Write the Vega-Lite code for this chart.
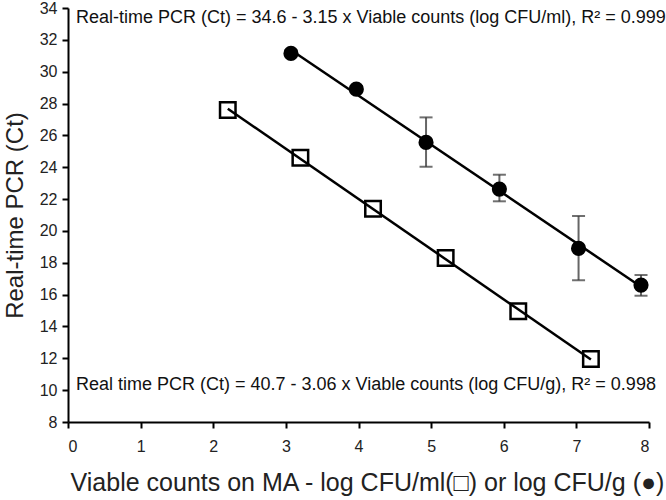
{
  "$schema": "https://vega.github.io/schema/vega-lite/v6.json",
  "width": 581,
  "height": 414,
  "autosize": "none",
  "padding": {"left": 68, "top": 8, "right": 17, "bottom": 78},
  "background": "white",
  "config": {
    "view": {"stroke": null},
    "font": "Liberation Sans",
    "axis": {
      "grid": false,
      "domainColor": "black",
      "domainWidth": 2,
      "tickColor": "black",
      "tickWidth": 2,
      "tickSize": 6,
      "labelFont": "Liberation Sans",
      "labelFontSize": 16,
      "labelColor": "#222",
      "titleFont": "Liberation Sans",
      "titleFontWeight": "normal",
      "titleColor": "#222"
    }
  },
  "datasets": {
    "g": [
      {"x": 3.07, "y": 31.15, "lo": 30.95, "hi": 31.35},
      {"x": 3.97, "y": 28.9, "lo": 28.7, "hi": 29.1},
      {"x": 4.93, "y": 25.56, "lo": 24.03, "hi": 27.13},
      {"x": 5.94, "y": 22.63, "lo": 21.86, "hi": 23.53},
      {"x": 7.03, "y": 18.9, "lo": 16.91, "hi": 20.93},
      {"x": 7.89, "y": 16.6, "lo": 15.93, "hi": 17.23}
    ],
    "ml": [
      {"x": 2.2, "y": 27.6},
      {"x": 3.2, "y": 24.6},
      {"x": 4.2, "y": 21.4},
      {"x": 5.2, "y": 18.3},
      {"x": 6.2, "y": 14.95},
      {"x": 7.2, "y": 11.95}
    ],
    "notes": [
      {"x": 0.11, "y": 33.4, "label": "Real-time PCR (Ct) = 34.6 - 3.15 x Viable counts (log CFU/ml), R² = 0.999"},
      {"x": 0.11, "y": 10.3, "label": "Real time PCR (Ct) = 40.7 - 3.06 x Viable counts (log CFU/g), R² = 0.998"}
    ]
  },
  "encoding": {
    "x": {
      "field": "x", "type": "quantitative",
      "scale": {"domain": [0, 8], "nice": false},
      "axis": {"values": [0,1,2,3,4,5,6,7,8], "labelPadding": 10, "titlePadding": 16,
               "titleFontSize": 25, "titleX": 299,
               "title": "Viable counts on MA - log CFU/ml(□) or log CFU/g (●)"}
    },
    "y": {
      "field": "y", "type": "quantitative",
      "scale": {"domain": [8, 34], "nice": false},
      "axis": {"values": [8,10,12,14,16,18,20,22,24,26,28,30,32,34], "labelPadding": 5,
               "titleFontSize": 24, "titleX": -53, "titleBaseline": "middle",
               "title": "Real-time PCR (Ct)"}
    }
  },
  "layer": [
    {
      "data": {"name": "ml"},
      "transform": [{"regression": "y", "on": "x"}],
      "mark": {"type": "line", "color": "black", "strokeWidth": 2.5}
    },
    {
      "data": {"name": "g"},
      "transform": [{"regression": "y", "on": "x"}],
      "mark": {"type": "line", "color": "black", "strokeWidth": 2.5}
    },
    {
      "data": {"name": "g"},
      "mark": {"type": "rule", "color": "#666", "strokeWidth": 2},
      "encoding": {"y": {"field": "lo", "type": "quantitative"}, "y2": {"field": "hi"}}
    },
    {
      "data": {"name": "g"},
      "mark": {"type": "tick", "orient": "horizontal", "color": "#333", "size": 13, "thickness": 2},
      "encoding": {"y": {"field": "lo", "type": "quantitative"}}
    },
    {
      "data": {"name": "g"},
      "mark": {"type": "tick", "orient": "horizontal", "color": "#333", "size": 13, "thickness": 2},
      "encoding": {"y": {"field": "hi", "type": "quantitative"}}
    },
    {
      "data": {"name": "ml"},
      "mark": {"type": "point", "shape": "square", "filled": false, "color": "black", "strokeWidth": 2.5, "size": 240, "opacity": 1}
    },
    {
      "data": {"name": "g"},
      "mark": {"type": "point", "shape": "circle", "filled": true, "color": "black", "size": 230, "opacity": 1}
    },
    {
      "data": {"name": "notes"},
      "mark": {"type": "text", "align": "left", "baseline": "middle", "font": "Liberation Sans", "fontSize": 18, "color": "#111"},
      "encoding": {"text": {"field": "label"}}
    }
  ]
}
